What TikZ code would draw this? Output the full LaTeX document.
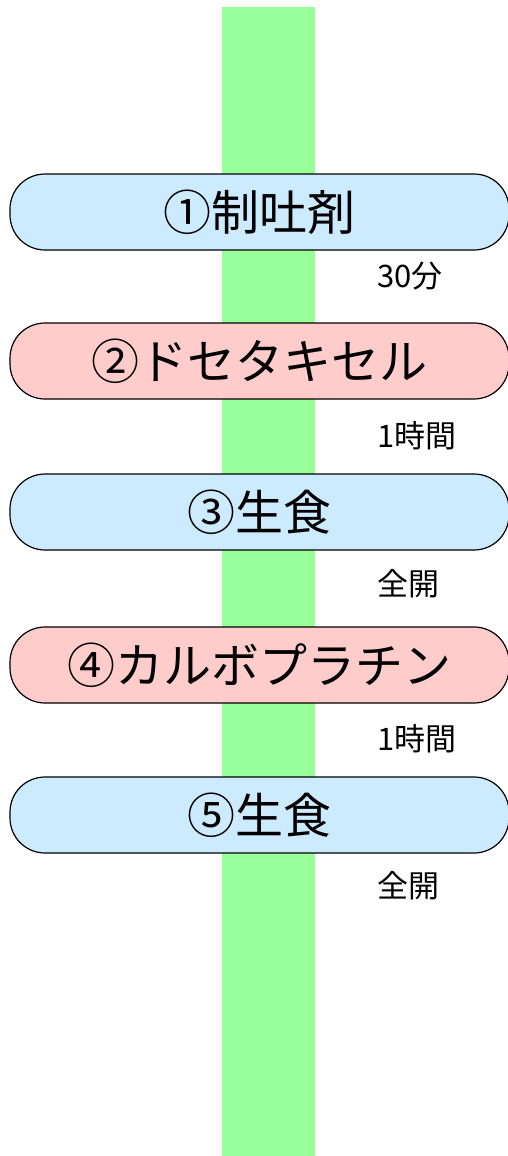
\documentclass[tikz,border=0pt]{standalone}
\usepackage{fontspec}
\setmainfont{Noto Sans CJK JP}
\definecolor{barGreen}{HTML}{99FF99}
\definecolor{stepBlue}{HTML}{CCEBFF}
\definecolor{stepPink}{HTML}{FFCCCC}
\begin{document}
\begin{tikzpicture}[
            x=1bp, y=-1bp,
            drugbox/.style={draw, line width=1.2bp, rectangle, rounded corners=35bp,
                minimum width=499bp, minimum height=76bp, inner sep=0pt,
                font=\fontsize{48bp}{50bp}\selectfont},
            bluebox/.style={drugbox, fill=stepBlue},
            pinkbox/.style={drugbox, fill=stepPink},
            timelbl/.style={anchor=west, inner sep=0pt, font=\fontsize{31bp}{33bp}\selectfont}
        ]
        \useasboundingbox (0,0) rectangle (508,1156);
        \fill[barGreen] (222,7) rectangle (315,1156);

        \node[bluebox] (S1) at (259.5,212) {①制吐剤};
        \node[pinkbox] (S2) at (259.5,361) {②ドセタキセル};
        \node[bluebox] (S3) at (259.5,512) {③生食};
        \node[pinkbox] (S4) at (259.5,665) {④カルボプラチン};
        \node[bluebox] (S5) at (259.5,815) {⑤生食};

        \node[timelbl] (T1) at (377,276) {30分};
        \node[timelbl] (T2) at (377,436) {1時間};
        \node[timelbl] (T3) at (377,584) {全開};
        \node[timelbl] (T4) at (377,739) {1時間};
        \node[timelbl] (T5) at (377,886) {全開};
    \end{tikzpicture}
\end{document}
